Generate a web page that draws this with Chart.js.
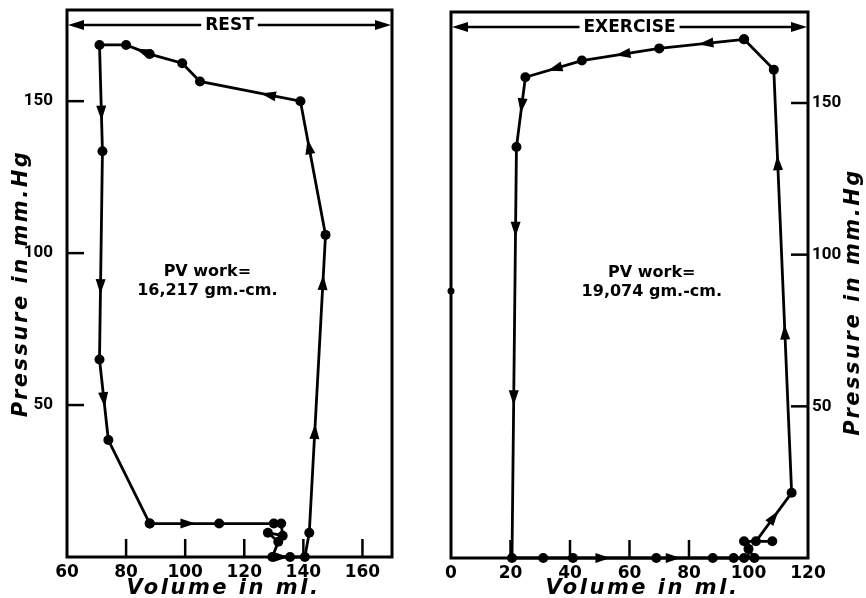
<!DOCTYPE html>
<html>
<head>
<meta charset="utf-8">
<script src="https://cdn.jsdelivr.net/npm/chart.js@4"></script>
<style>
  body { margin: 0; background: #fff; }
  .wrap { display: flex; width: 866px; height: 598px; }
  .box { width: 433px; height: 598px; }
</style>
</head>
<body>
<div class="wrap">
  <div class="box"><canvas id="rest" width="433" height="598"></canvas></div>
  <div class="box"><canvas id="exercise" width="433" height="598"></canvas></div>
</div>
<script>
// REST loop (volume ml, pressure mm Hg), in drawing order
const restVolume   = [88, 111.5, 130, 132.5, 133, 128, 131.5, 129.5, 135.5, 140.5, 142, 147.5, 139, 105, 99, 88, 80, 71, 72, 71, 74, 88];
const restPressure = [11, 11, 11, 11, 7, 8, 5, 0, 0, 0, 8, 106, 150, 156.5, 162.5, 165.5, 168.5, 168.5, 133.5, 65, 38.5, 11];
// arrowheads: [segment index, fraction along segment]
const restArrows = [[0, 0.55], [7, 0.5], [10, 0.34], [10, 0.84], [11, 0.66], [12, 0.32], [15, 0.29], [17, 0.64], [18, 0.65], [19, 0.5]];

// EXERCISE loop
const exVolume   = [98.5, 70, 44, 25, 22, 20.5, 31, 41, 69, 88, 95, 98.5, 102, 100, 98.5, 108, 102.5, 114.5, 108.5, 98.5];
const exPressure = [171, 168, 164, 158.5, 135.5, 0, 0, 0, 0, 0, 0, 0, 0, 3, 5.5, 5.5, 5.5, 21.5, 161, 171];
const exArrows = [[0, 0.45], [1, 0.47], [2, 0.48], [3, 0.41], [4, 0.2], [4, 0.61], [7, 0.36], [8, 0.3], [16, 0.5], [17, 0.38], [17, 0.78]];
const exStrayVolume = [0];
const exStrayPressure = [88];

const restXTicks = [60, 80, 100, 120, 140, 160];
const exXTicks = [0, 20, 40, 60, 80, 100, 120];
const pressureTicks = [50, 100, 150];

const restNote = ['PV work=', '16,217 gm.-cm.'];
const exNote = ['PV work=', '19,074 gm.-cm.'];
const restNoteAt = [107.5, 94];
const exNoteAt = [67.5, 94];

Chart.defaults.font.family = 'DejaVu Sans';
Chart.defaults.color = '#000';

const toPoints = (xs, ys) => xs.map((x, i) => ({ x: x, y: ys[i] }));

function line(ctx, x1, y1, x2, y2) {
  ctx.beginPath(); ctx.moveTo(x1, y1); ctx.lineTo(x2, y2); ctx.stroke();
}

function arrowHead(ctx, x, y, ang, len, half) {
  ctx.save();
  ctx.translate(x, y);
  ctx.rotate(ang);
  ctx.beginPath();
  ctx.moveTo(len / 2, 0);
  ctx.lineTo(-len / 2, -half);
  ctx.lineTo(-len / 2, half);
  ctx.closePath();
  ctx.fill();
  ctx.restore();
}

const panelPlugin = {
  id: 'panel',
  afterDatasetsDraw(chart, args, opts) {
    const ctx = chart.ctx, a = chart.chartArea;
    const xs = chart.scales.x, ys = chart.scales.y;
    ctx.save();
    ctx.strokeStyle = '#000';
    ctx.fillStyle = '#000';

    // frame
    ctx.lineWidth = 3;
    ctx.strokeRect(a.left, a.top, a.width, a.height);

    // inward tick marks
    ctx.lineWidth = 2.5;
    xs.ticks.forEach(t => {
      if (t.value <= xs.min || t.value >= xs.max) return;
      const px = xs.getPixelForValue(t.value);
      line(ctx, px, a.bottom, px, a.bottom - 18);
    });
    ys.ticks.forEach(t => {
      const py = ys.getPixelForValue(t.value);
      if (ys.position === 'left') line(ctx, a.left, py, a.left + 17, py);
      else line(ctx, a.right, py, a.right - 17, py);
    });

    // direction arrows on the loop
    chart.data.datasets.forEach((ds, di) => {
      if (!ds.arrows) return;
      const pts = chart.getDatasetMeta(di).data;
      ds.arrows.forEach(([i, f]) => {
        const p0 = pts[i], p1 = pts[i + 1];
        const x = p0.x + (p1.x - p0.x) * f;
        const y = p0.y + (p1.y - p0.y) * f;
        arrowHead(ctx, x, y, Math.atan2(p1.y - p0.y, p1.x - p0.x), 15, 5);
      });
    });

    // header with double arrow
    ctx.font = 'bold 17px "DejaVu Sans"';
    const hy = a.top + 15;
    const cx = (a.left + a.right) / 2;
    const w = ctx.measureText(opts.header).width;
    ctx.lineWidth = 2.5;
    line(ctx, a.left + 8, hy, cx - w / 2 - 4, hy);
    line(ctx, cx + w / 2 + 4, hy, a.right - 8, hy);
    arrowHead(ctx, a.left + 9, hy, Math.PI, 16, 5);
    arrowHead(ctx, a.right - 9, hy, 0, 16, 5);
    ctx.textAlign = 'center';
    ctx.textBaseline = 'middle';
    ctx.fillText(opts.header, cx, hy + 1);

    // PV work note
    ctx.font = 'bold 16px "DejaVu Sans"';
    const nx = xs.getPixelForValue(opts.noteAt[0]);
    const ny = ys.getPixelForValue(opts.noteAt[1]);
    opts.note.forEach((s, i) => ctx.fillText(s, nx, ny + i * 19));

    // axis titles
    ctx.font = 'italic bold 21px "DejaVu Sans"';
    ctx.letterSpacing = '2.5px';
    ctx.fillText('Volume in ml.', cx + opts.xTitleShift, 589);
    ctx.save();
    ctx.translate(opts.yTitleX, (a.top + a.bottom) / 2 + opts.yTitleShift);
    ctx.rotate(-Math.PI / 2);
    ctx.fillText('Pressure in mm.Hg', 0, 0);
    ctx.restore();

    ctx.restore();
  }
};

function makeChart(id, cfg) {
  return new Chart(document.getElementById(id), {
    type: 'scatter',
    data: {
      datasets: cfg.datasets
    },
    options: {
      responsive: false,
      animation: false,
      devicePixelRatio: 1,
      layout: { padding: cfg.padding },
      plugins: {
        legend: { display: false },
        tooltip: { enabled: false },
        panel: cfg.panel
      },
      scales: {
        x: {
          type: 'linear',
          min: cfg.xMin, max: cfg.xMax,
          border: { display: false },
          grid: { display: false, drawTicks: false },
          ticks: { padding: 5, maxRotation: 0, font: { size: 17, weight: 'bold' } },
          afterBuildTicks: s => { s.ticks = cfg.xTicks.map(v => ({ value: v })); },
          afterFit: s => { s.height = cfg.xHeight; s.paddingLeft = 0; s.paddingRight = 0; s.paddingTop = 0; s.paddingBottom = 0; }
        },
        y: {
          type: 'linear',
          position: cfg.yPos,
          min: 0, max: 180,
          border: { display: false },
          grid: { display: false, drawTicks: false },
          ticks: { padding: cfg.yPad, font: { family: 'Roboto', size: 17, weight: 'bold' } },
          afterBuildTicks: s => { s.ticks = pressureTicks.map(v => ({ value: v })); },
          afterFit: s => { s.width = cfg.yWidth; s.paddingLeft = 0; s.paddingRight = 0; s.paddingTop = 0; s.paddingBottom = 0; }
        }
      }
    },
    plugins: [panelPlugin]
  });
}

const lineStyle = {
  showLine: true,
  borderColor: '#000',
  backgroundColor: '#000',
  borderWidth: 2.8,
  pointRadius: 5,
  pointBackgroundColor: '#000',
  pointBorderWidth: 0,
  clip: false
};

makeChart('rest', {
  datasets: [Object.assign({ data: toPoints(restVolume, restPressure), arrows: restArrows }, lineStyle)],
  padding: { top: 10, right: 41, left: 0, bottom: 0 },
  xMin: 60, xMax: 170, xTicks: restXTicks, xHeight: 41,
  yPos: 'left', yWidth: 67, yPad: 14,
  panel: { header: 'REST', note: restNote, noteAt: restNoteAt, yTitleX: 22, yTitleShift: 0, xTitleShift: -6 }
});

makeChart('exercise', {
  datasets: [
    Object.assign({ data: toPoints(exVolume, exPressure), arrows: exArrows }, lineStyle),
    { data: toPoints(exStrayVolume, exStrayPressure), pointRadius: 3.5, backgroundColor: '#000', borderWidth: 0, clip: false }
  ],
  padding: { top: 12, right: 0, left: 18, bottom: 0 },
  xMin: 0, xMax: 120, xTicks: exXTicks, xHeight: 40,
  yPos: 'right', yWidth: 58, yPad: 4,
  panel: { header: 'EXERCISE', note: exNote, noteAt: exNoteAt, yTitleX: 421, yTitleShift: 17, xTitleShift: 13 }
});
</script>
</body>
</html>
